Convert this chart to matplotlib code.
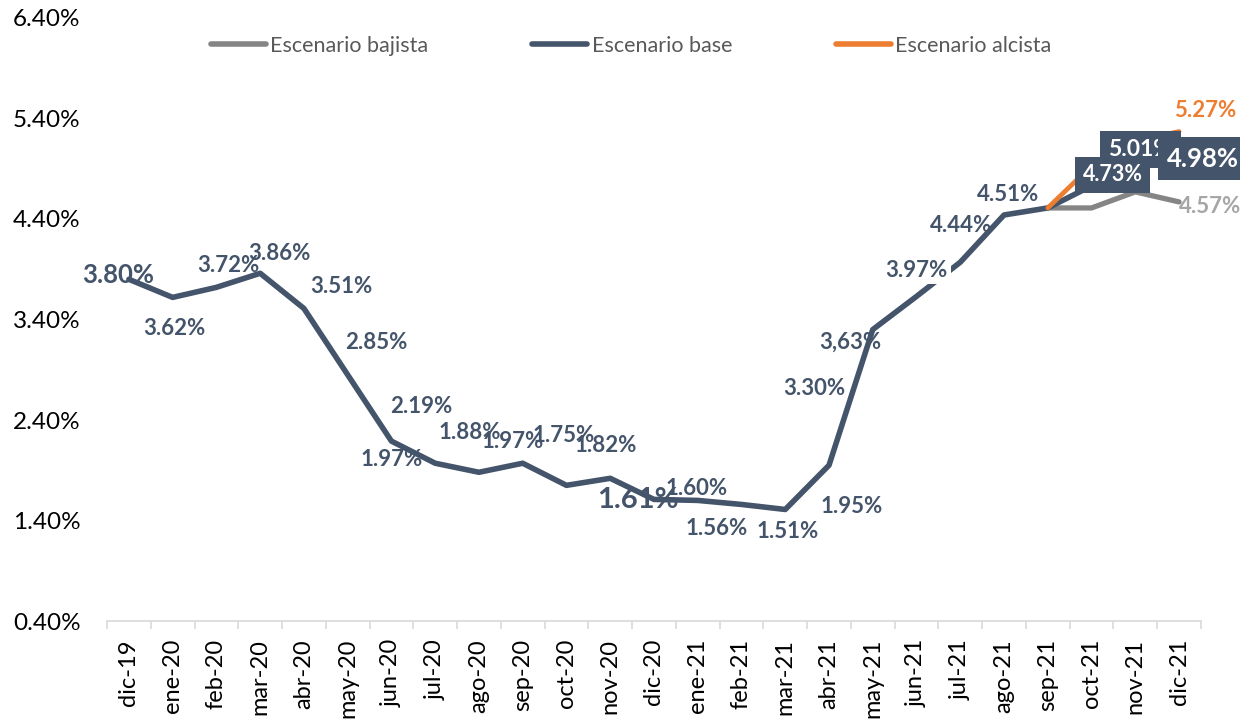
import matplotlib.pyplot as plt
from matplotlib.ticker import FixedLocator, PercentFormatter

# --- colours (Excel-like) ---
palette = {
    "base": "#44546a",
    "bajista": "#858585",
    "bajista_lbl": "#a6a6a6",
    "alcista": "#ed7d31",
    "axis": "#d9d9d9",
}

plt.rcParams.update({
    "font.family": ["Lato", "DejaVu Sans"],
    "font.size": 14,
    "figure.facecolor": "white",
    "axes.facecolor": "white",
})

# --- data ---
months = ["dic-19", "ene-20", "feb-20", "mar-20", "abr-20", "may-20", "jun-20",
          "jul-20", "ago-20", "sep-20", "oct-20", "nov-20", "dic-20", "ene-21",
          "feb-21", "mar-21", "abr-21", "may-21", "jun-21", "jul-21", "ago-21",
          "sep-21", "oct-21", "nov-21", "dic-21"]
base = [3.80, 3.62, 3.72, 3.86, 3.51, 2.85, 2.19, 1.97, 1.88, 1.97, 1.75, 1.82,
        1.61, 1.60, 1.56, 1.51, 1.95, 3.30, 3.63, 3.97, 4.44, 4.51, 4.73, 5.01, 4.98]
base_labels = ["3.80%", "3.62%", "3.72%", "3.86%", "3.51%", "2.85%", "2.19%",
               "1.97%", "1.88%", "1.97%", "1.75%", "1.82%", "1.61%", "1.60%",
               "1.56%", "1.51%", "1.95%", "3.30%", "3,63%", "3.97%", "4.44%",
               "4.51%", "4.73%", "5.01%", "4.98%"]
bajista_idx = [21, 22, 23, 24]
bajista = [4.51, 4.51, 4.67, 4.57]
alcista_idx = [21, 22, 23, 24]
alcista = [4.51, 4.93, 5.18, 5.27]
yticks = [0.40, 1.40, 2.40, 3.40, 4.40, 5.40, 6.40]

# label placement (pixel offsets from the point, dx right / dy up) and font size
lbl_off = [(-11, 4), (2, -31), (12, 22), (19, 20), (37, 22), (29, 32), (30, 35),
           (-44, 4), (-9, 40), (-10, 22), (-3, 50), (-5, 33), (-16, -1), (-1, 12),
           (-25, -24), (2, -22), (23, -41), (-58, -59), (-66, -46), (-44, -8),
           (-43, -11), (-40, 13), (21, 11), (5, 8), (24, 2)]
lbl_size = {0: 18.5, 12: 21, 22: 15.5, 23: 16.5, 24: 18.5}
box_z = {22: 8, 23: 7, 24: 9}   # 5.01 box sits behind the other two

fig = plt.figure(figsize=(12.4, 7.25), dpi=100)
ax = fig.add_axes([0.0863, 0.1434, 0.8822, 0.8318])

x = list(range(len(months)))
ax.plot(bajista_idx, bajista, color=palette["bajista"], lw=3.8,
        solid_capstyle="round", solid_joinstyle="round", zorder=2, label="Escenario bajista")
ax.plot(x, base, color=palette["base"], lw=4.0,
        solid_capstyle="round", solid_joinstyle="round", zorder=3, label="Escenario base")
ax.plot(alcista_idx, alcista, color=palette["alcista"], lw=3.4,
        solid_capstyle="round", solid_joinstyle="round", zorder=4, label="Escenario alcista")

# data labels
for i, (v, t) in enumerate(zip(base, base_labels)):
    dx, dy = lbl_off[i]
    kw = dict(fontsize=lbl_size.get(i, 16), fontweight="bold", ha="center", va="center",
              textcoords="offset points", xytext=(dx * 0.72, dy * 0.72), zorder=6)
    if i in box_z:
        kw["color"] = "white"
        kw["zorder"] = box_z[i]
        kw["bbox"] = dict(boxstyle="square,pad=0.36", fc=palette["base"], ec="none")
    elif i == 19:
        kw["color"] = palette["base"]
        kw["bbox"] = dict(boxstyle="square,pad=0.15", fc="white", ec="none")
    else:
        kw["color"] = palette["base"]
    ax.annotate(t, (i, v), **kw)

ax.annotate("4.57%", (bajista_idx[-1], bajista[-1]), xytext=(31 * 0.72, -5 * 0.72),
            textcoords="offset points", ha="center", va="center", fontsize=16,
            fontweight="bold", color=palette["bajista_lbl"], zorder=5)
ax.annotate("5.27%", (alcista_idx[-1], alcista[-1]), xytext=(26 * 0.72, 21 * 0.72),
            textcoords="offset points", ha="center", va="center", fontsize=16,
            fontweight="bold", color=palette["alcista"], zorder=5)

# axes
ax.set_xlim(-0.5, len(months) - 0.5)
ax.set_ylim(0.40, 6.40)
ax.set_yticks(yticks)
ax.yaxis.set_major_formatter(PercentFormatter(decimals=2))
ax.set_xticks(x)
ax.set_xticklabels(months, rotation=90)
ax.xaxis.set_minor_locator(FixedLocator([i - 0.5 for i in range(len(months) + 1)]))
ax.tick_params(axis="x", which="major", length=0, pad=13, labelsize=17)
ax.tick_params(axis="x", which="minor", length=6, width=1.2, color=palette["axis"])
ax.tick_params(axis="y", length=0, pad=19, labelsize=17.5)

for s in ["top", "right", "left"]:
    ax.spines[s].set_visible(False)
ax.spines["bottom"].set_color(palette["axis"])
ax.spines["bottom"].set_linewidth(1.2)

leg = fig.legend(loc="center", bbox_to_anchor=(0.509, 0.937), ncol=3, frameon=False,
                 fontsize=15.5, handlelength=2.55, handletextpad=0.23, columnspacing=4.8)
for t in leg.get_texts():
    t.set_color("#595959")
for h in leg.get_lines():
    h.set_linewidth(4.0)

fig.savefig("out.png", dpi=100)
